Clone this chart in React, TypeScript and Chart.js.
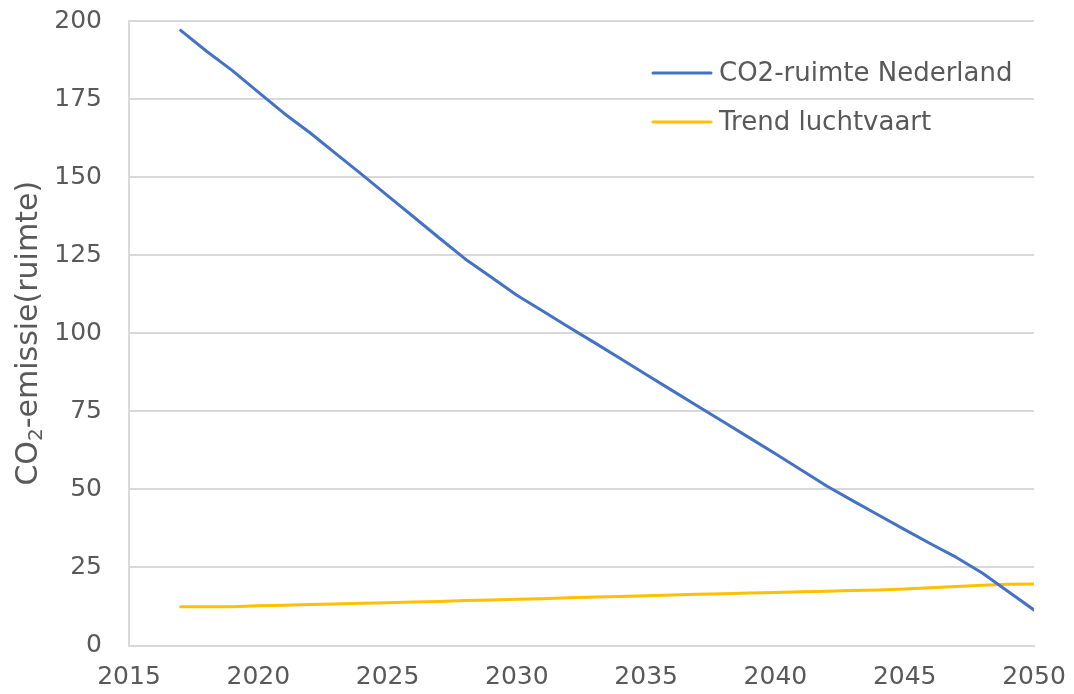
import React, { useEffect, useRef } from "react";
import { Chart, registerables } from "chart.js";

Chart.register(...registerables);

const years: number[] = [
  2017, 2018, 2019, 2020, 2021, 2022, 2023, 2024, 2025, 2026, 2027, 2028,
  2029, 2030, 2031, 2032, 2033, 2034, 2035, 2036, 2037, 2038, 2039, 2040,
  2041, 2042, 2043, 2044, 2045, 2046, 2047, 2048, 2049, 2050,
];

const co2RuimteNederland: number[] = [
  197, 190.3, 184.1, 177.2, 170.4, 164.2, 157.5, 150.9, 144.1, 137.3, 130.5, 123.8,
  118, 112.2, 107.1, 102, 97, 91.9, 86.8, 81.7, 76.6, 71.6, 66.5, 61.4,
  56.2, 51, 46.3, 41.7, 37.1, 32.6, 28.2, 23.2, 17.3, 11.4,
];

const trendLuchtvaart: number[] = [
  12.4, 12.4, 12.4, 12.7, 12.9, 13.1, 13.3, 13.5, 13.7, 13.9, 14.1, 14.4,
  14.6, 14.8, 15.0, 15.3, 15.5, 15.7, 15.9, 16.2, 16.4, 16.6, 16.8, 17.0,
  17.2, 17.4, 17.6, 17.8, 18.1, 18.5, 18.9, 19.3, 19.6, 19.7,
];

const seriesLabels: string[] = ["CO2-ruimte Nederland", "Trend luchtvaart"];
const yTitleParts: string[] = ["CO", "2", "-emissie(ruimte)"];
const xMin = 2015;
const xMax = 2050;
const xStep = 5;
const yMin = 0;
const yMax = 200;
const yStep = 25;

const FONT = "'DejaVu Sans', Verdana, sans-serif";
const TEXT = "#595959";
const GRID = "#D9D9D9";
const BLUE = "#4472C4";
const YELLOW = "#FFC000";

const legendPlugin = {
  id: "insideLegend",
  afterDraw(chart: any) {
    const { ctx, chartArea } = chart;
    const x0 = chartArea.right - 381;
    const rows = [chartArea.top + 52, chartArea.top + 101];
    ctx.save();
    chart.data.datasets.forEach((ds: any, i: number) => {
      const y = rows[i];
      ctx.strokeStyle = ds.borderColor;
      ctx.lineWidth = 3;
      ctx.lineCap = "round";
      ctx.beginPath();
      ctx.moveTo(x0, y);
      ctx.lineTo(x0 + 58, y);
      ctx.stroke();
      ctx.fillStyle = TEXT;
      ctx.font = `26px ${FONT}`;
      ctx.textBaseline = "middle";
      ctx.textAlign = "left";
      ctx.fillText(ds.label, x0 + 66, y + 1);
    });
    ctx.restore();
  },
};

const yTitlePlugin = {
  id: "yTitleSub",
  afterDraw(chart: any) {
    const { ctx, chartArea } = chart;
    const big = `30px ${FONT}`;
    const small = `20px ${FONT}`;
    ctx.save();
    ctx.font = big;
    const w0 = ctx.measureText(yTitleParts[0]).width;
    const w2 = ctx.measureText(yTitleParts[2]).width;
    ctx.font = small;
    const w1 = ctx.measureText(yTitleParts[1]).width;
    const total = w0 + w1 + w2;
    const cy = (chartArea.top + chartArea.bottom) / 2;
    ctx.translate(29, cy);
    ctx.rotate(-Math.PI / 2);
    ctx.fillStyle = TEXT;
    ctx.textBaseline = "middle";
    ctx.textAlign = "left";
    let x = -total / 2;
    ctx.font = big;
    ctx.fillText(yTitleParts[0], x, 0);
    x += w0;
    ctx.font = small;
    ctx.fillText(yTitleParts[1], x, 8);
    x += w1;
    ctx.font = big;
    ctx.fillText(yTitleParts[2], x, 0);
    ctx.restore();
  },
};

export default function App() {
  const ref = useRef<HTMLCanvasElement | null>(null);

  useEffect(() => {
    if (!ref.current) return;
    const toPoints = (vals: number[]) => years.map((x, i) => ({ x, y: vals[i] }));
    const chart = new Chart(ref.current, {
      type: "line",
      data: {
        datasets: [
          {
            label: seriesLabels[0],
            data: toPoints(co2RuimteNederland),
            borderColor: BLUE,
            backgroundColor: BLUE,
            borderWidth: 3,
            pointRadius: 0,
            tension: 0,
            borderCapStyle: "round",
            borderJoinStyle: "round",
          },
          {
            label: seriesLabels[1],
            data: toPoints(trendLuchtvaart),
            borderColor: YELLOW,
            backgroundColor: YELLOW,
            borderWidth: 3,
            pointRadius: 0,
            tension: 0,
            borderCapStyle: "round",
            borderJoinStyle: "round",
          },
        ],
      },
      options: {
        animation: false,
        responsive: false,
        maintainAspectRatio: false,
        layout: { padding: { top: 21, right: 40, left: 0, bottom: 0 } },
        plugins: {
          legend: { display: false },
          tooltip: { enabled: false },
        },
        scales: {
          x: {
            type: "linear",
            min: xMin,
            max: xMax,
            grid: { display: false, drawTicks: false },
            border: { display: true, color: GRID, width: 2 },
            ticks: {
              stepSize: xStep,
              padding: 17,
              color: TEXT,
              font: { family: FONT, size: 25 },
              callback: (v: any) => String(v),
              maxRotation: 0,
            },
            afterFit: (scale: any) => {
              scale.height = 48.5;
              scale.paddingLeft = 0;
              scale.paddingRight = 0;
              scale.paddingTop = 0;
              scale.paddingBottom = 0;
            },
          },
          y: {
            min: yMin,
            max: yMax,
            grid: { color: GRID, lineWidth: 2, drawTicks: false },
            border: { display: true, color: GRID, width: 2 },
            ticks: {
              stepSize: yStep,
              padding: 27,
              color: TEXT,
              font: { family: FONT, size: 25 },
            },
            afterFit: (scale: any) => {
              scale.width = 129;
              scale.paddingLeft = 0;
              scale.paddingRight = 0;
              scale.paddingTop = 0;
              scale.paddingBottom = 0;
            },
          },
        },
      },
      plugins: [legendPlugin, yTitlePlugin],
    });
    return () => chart.destroy();
  }, []);

  return (
    <div style={{ position: "fixed", left: 0, top: 0, width: 1074, height: 694, background: "#fff" }}>
      <canvas ref={ref} width={1074} height={694} style={{ width: 1074, height: 694 }} />
    </div>
  );
}
